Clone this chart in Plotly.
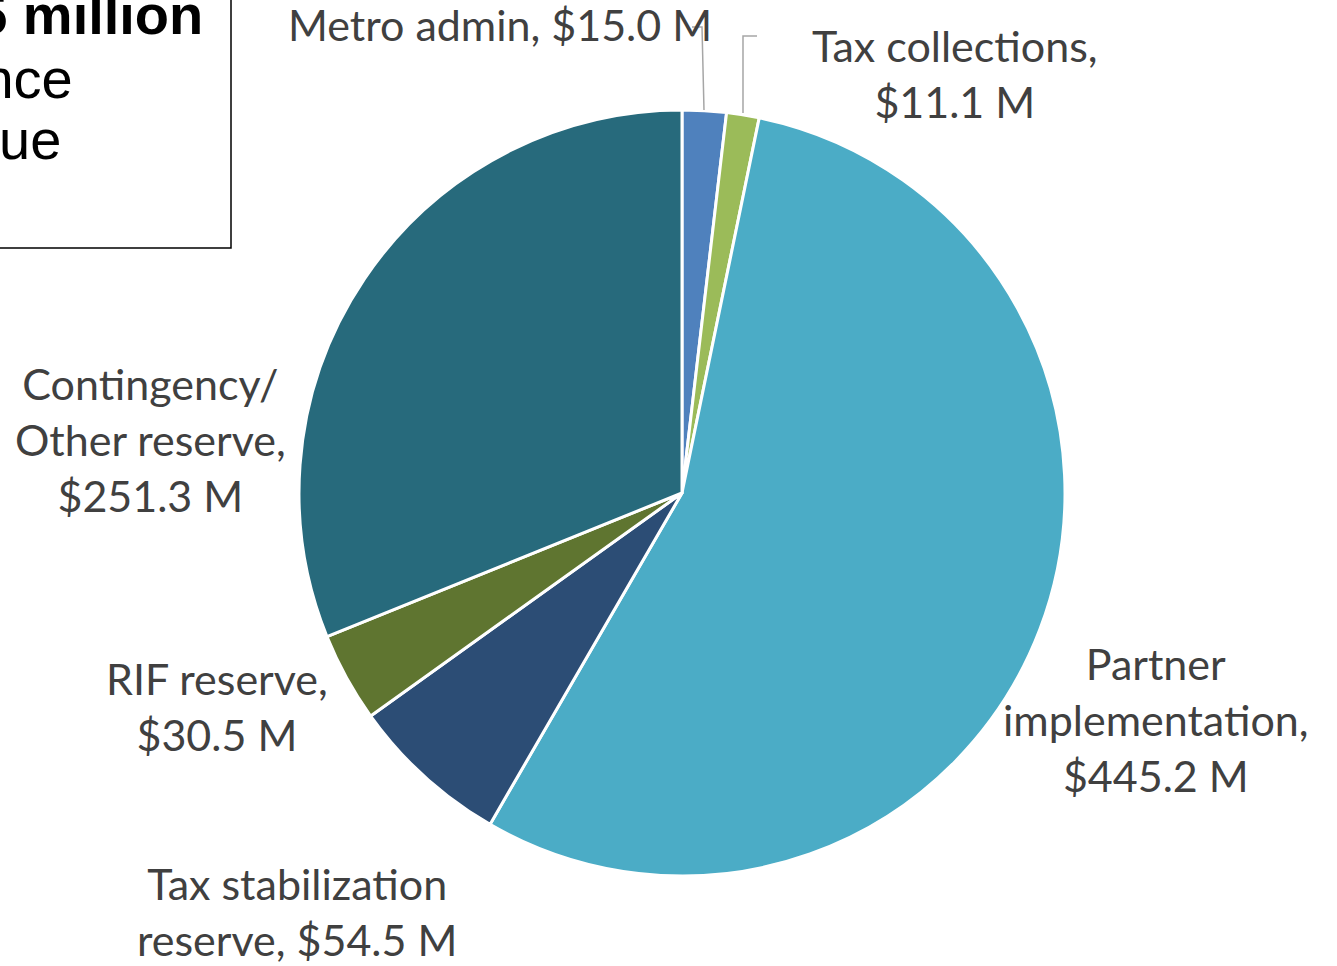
import plotly.graph_objects as go

W, H = 1337, 966

categories = [
    "Metro admin",
    "Tax collections",
    "Partner implementation",
    "Tax stabilization reserve",
    "RIF reserve",
    "Contingency/ Other reserve",
]
amounts = [15.0, 11.1, 445.2, 54.5, 30.5, 251.3]
slice_colors = ["#4F81BD", "#9BBB59", "#4BACC6", "#2C4D75", "#5F7530", "#276A7C"]

# label text as it is broken in the reference
label_lines = [
    "Metro admin, $15.0 M",
    "Tax collections,<br>$11.1 M",
    "Partner<br>implementation,<br>$445.2 M",
    "Tax stabilization<br>reserve, $54.5 M",
    "RIF reserve,<br>$30.5 M",
    "Contingency/<br>Other reserve,<br>$251.3 M",
]
# label centres in pixels (x, y of the block centre)
label_pos = [(500, 25), (955, 73), (1156, 719), (297, 911), (217, 706), (150, 439)]

box_lines = ["$807.5 million", "fund balance", "and revenue"]


def px(x, y):
    return x / W, 1 - y / H


LABEL_FONT = dict(family="Lato, Carlito, Noto Sans, sans-serif", size=43, color="#404040")
BOX_FONT = dict(family="Liberation Sans, Arial, sans-serif", size=56, color="#000000")

fig = go.Figure(
    go.Pie(
        labels=categories,
        values=amounts,
        sort=False,
        direction="clockwise",
        rotation=0,
        textinfo="none",
        hoverinfo="label+value",
        marker=dict(colors=slice_colors, line=dict(color="white", width=3)),
        domain=dict(x=[299 / W, 1065 / W], y=[1 - 876 / H, 1 - 110 / H]),
        showlegend=False,
    )
)

annotations = []
for text, (lx, ly) in zip(label_lines, label_pos):
    ax, ay = px(lx, ly)
    annotations.append(dict(
        x=ax, y=ay, xref="paper", yref="paper", text=text, showarrow=False,
        xanchor="center", yanchor="middle", align="center", font=LABEL_FONT,
    ))

# text box at top left, clipped by the page edge
box_right = [205, 75, 63]
box_y = [15, 79, 140]
for i, (t, rx, ry) in enumerate(zip(box_lines, box_right, box_y)):
    ax, ay = px(rx, ry)
    annotations.append(dict(
        x=ax, y=ay, xref="paper", yref="paper",
        text=f"<b>{t}</b>" if i == 0 else t, showarrow=False,
        xanchor="right", yanchor="middle", font=BOX_FONT,
    ))

shapes = [
    dict(type="rect", xref="paper", yref="paper",
         x0=-0.05, x1=231 / W, y0=1 - 248 / H, y1=1.05,
         line=dict(color="black", width=1.5), fillcolor="rgba(0,0,0,0)"),
]
leader_color = "#A6A6A6"
for pts in ([(704, 110), (702, 27), (692, 27)], [(743, 113), (743, 36), (757, 36)]):
    path = "M " + " L ".join(f"{x / W:.5f},{1 - y / H:.5f}" for x, y in pts)
    shapes.append(dict(type="path", xref="paper", yref="paper", path=path,
                       line=dict(color=leader_color, width=1.5)))

fig.update_layout(
    width=W, height=H,
    margin=dict(l=0, r=0, t=0, b=0),
    paper_bgcolor="white", plot_bgcolor="white",
    annotations=annotations, shapes=shapes,
)

fig.write_html("out.html", config={"displayModeBar": False},
               post_script="document.body.style.margin='0';")
